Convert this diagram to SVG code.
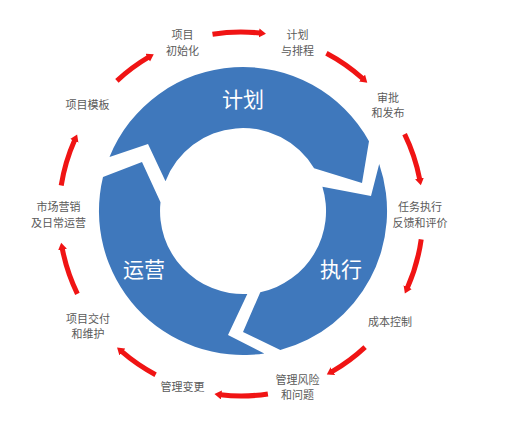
<svg xmlns="http://www.w3.org/2000/svg" width="519" height="426" viewBox="0 0 519 426">
<style>
.seg{fill:#3F78BC}
.big{font-family:"Noto Sans CJK SC","Noto Sans",sans-serif;font-size:21px;fill:#ffffff;text-anchor:middle}
.lbl{font-family:"Noto Sans CJK SC","Noto Sans",sans-serif;font-size:11px;fill:#5a5a5a;text-anchor:middle}
.arr{fill:none;stroke:#F01414;stroke-width:5;marker-end:url(#head)}
</style>
<defs>
<marker id="head" markerUnits="userSpaceOnUse" markerWidth="10" markerHeight="10" refX="1" refY="4.5" orient="auto">
<path d="M0,0 L7,4.5 L0,9 Z" fill="#F01414"/>
</marker>
</defs>
<rect width="519" height="426" fill="#ffffff"/>
<g id="plan">
<path class="seg" d="M109.5,157.1 A144,144 0 0 1 369,141.2 L362,183 L314.1,168.3 A83,83 0 0 0 165.5,181.3 L148,144 Z"/>
<text class="big" x="243" y="107">计划</text>
</g>
<g id="execute">
<path class="seg" d="M379.2,164.1 A144,144 0 0 1 280.3,350.1 L243,332 L260.3,292.2 A83,83 0 0 0 322.4,186.7 L371,196 Z"/>
<text class="big" x="341" y="277">执行</text>
</g>
<g id="operate">
<path class="seg" d="M264.3,353.4 A144,144 0 0 1 103,177.1 L142,162 L160.5,202.3 A83,83 0 0 0 247.3,293.9 L228,335 Z"/>
<text class="big" x="144" y="277">运营</text>
</g>
<g id="init"><text class="lbl" x="182.5" y="39">项目</text><text class="lbl" x="182.5" y="55">初始化</text></g>
<g id="schedule"><text class="lbl" x="297.5" y="39">计划</text><text class="lbl" x="297.5" y="55">与排程</text></g>
<g id="approve"><text class="lbl" x="388" y="102">审批</text><text class="lbl" x="388" y="117">和发布</text></g>
<g id="task"><text class="lbl" x="420" y="211">任务执行</text><text class="lbl" x="420" y="227">反馈和评价</text></g>
<g id="cost"><text class="lbl" x="390" y="326">成本控制</text></g>
<g id="risk"><text class="lbl" x="297.5" y="384">管理风险</text><text class="lbl" x="297.5" y="399">和问题</text></g>
<g id="change"><text class="lbl" x="182.5" y="391">管理变更</text></g>
<g id="deliver"><text class="lbl" x="88" y="323">项目交付</text><text class="lbl" x="88" y="338">和维护</text></g>
<g id="market"><text class="lbl" x="58.5" y="211">市场营销</text><text class="lbl" x="58.5" y="227">及日常运营</text></g>
<g id="template"><text class="lbl" x="87.5" y="109">项目模板</text></g>
<g id="connectors">
<path class="arr" d="M212.5,34.2 A182,182 0 0 1 260,33"/>
<path class="arr" d="M326.4,53.3 A182,182 0 0 1 362.8,78.7"/>
<path class="arr" d="M404.6,134.2 A182,182 0 0 1 419.7,179.3"/>
<path class="arr" d="M421.2,239.3 A182,182 0 0 1 407.3,288"/>
<path class="arr" d="M365.1,347.1 A182,182 0 0 1 332,371.6"/>
<path class="arr" d="M267.9,394 A182,182 0 0 1 220.4,394.8"/>
<path class="arr" d="M155.6,374.7 A182,182 0 0 1 121.6,351.4"/>
<path class="arr" d="M77.4,293.8 A182,182 0 0 1 62.3,248.7"/>
<path class="arr" d="M61.2,185.5 A182,182 0 0 1 74.7,140"/>
<path class="arr" d="M116.9,80.9 A182,182 0 0 1 148.6,57.2"/>
</g>
</svg>
